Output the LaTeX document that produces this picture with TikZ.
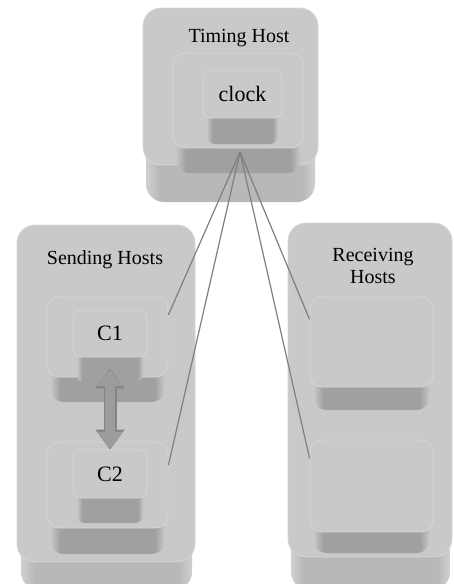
\documentclass[tikz,border=0pt]{standalone}
\usepackage{fontspec}
\setmainfont{Liberation Serif}
\usetikzlibrary{arrows.meta}
\definecolor{facegray}{HTML}{C9C9C9}
\definecolor{rimgray}{HTML}{D6D6D6}
\definecolor{banddark}{HTML}{A0A0A0}
\definecolor{bandlight}{HTML}{C6C6C6}
\definecolor{basedark}{HTML}{B8B8B8}
\definecolor{baselight}{HTML}{D0D0D0}
\definecolor{linkgray}{HTML}{7F7F7F}
\definecolor{arrowgray}{HTML}{9C9C9C}
\definecolor{arrowrim}{HTML}{858585}
\pgfdeclarehorizontalshading{bandshade}{100bp}{color(0bp)=(bandlight); color(25bp)=(bandlight); color(29bp)=(banddark); color(71bp)=(banddark); color(75bp)=(bandlight); color(100bp)=(bandlight)}
\pgfdeclarehorizontalshading{baseshade}{100bp}{color(0bp)=(baselight); color(25bp)=(baselight); color(29bp)=(basedark); color(71bp)=(basedark); color(75bp)=(baselight); color(100bp)=(baselight)}

\begin{document}
\begin{tikzpicture}[
		x=1pt, y=-1pt,
		face/.style={draw=rimgray, line width=0.8pt, fill=facegray, inner sep=0pt},
		band/.style={shading=bandshade, inner sep=0pt},
		base/.style={shading=baseshade, inner sep=0pt},
		big/.style={rounded corners=18pt},
		mid/.style={rounded corners=12pt},
		small/.style={rounded corners=8pt},
		title/.style={font=\fontsize{20}{22}\selectfont, align=center},
		core/.style={font=\fontsize{22}{24}\selectfont},
		link/.style={draw=linkgray, line width=1.2pt},
		syncrim/.style={draw=arrowrim, line width=13pt, >={Triangle[length=20pt, width=28pt]}, <->},
		sync/.style={draw=arrowgray, line width=10.5pt, >={Triangle[length=16.5pt, width=24.5pt]}, <->, shorten <=1.2pt, shorten >=1.2pt}
		]
		\useasboundingbox (0,0) rectangle (454,584);
		
		\node[base, big, minimum width=169pt, minimum height=72pt] (timingbase) at (230.5,166) {};
		\node[face, big, minimum width=175pt, minimum height=157pt] (timing) at (230.5,86.5) {};
		\node[band, mid, minimum width=124pt, minimum height=48pt] (timingmidbase) at (238,149) {};
		\node[face, mid, minimum width=130pt, minimum height=95pt] (timingmid) at (238,100.5) {};
		\node[band, small, minimum width=71pt, minimum height=44pt] (clockbase) at (242.5,122) {};
		\node[face, small, core, minimum width=79pt, minimum height=48pt] (clock) at (242.5,94) {clock};
		\node[title] (timinglabel) at (239,38) {Timing Host};
		\coordinate (hub) at (240,152);
		
		\node[base, big, minimum width=171pt, minimum height=60pt] (sendbase) at (106.5,560) {};
		\node[face, big, minimum width=178pt, minimum height=337pt] (send) at (106,393.5) {};
		\node[title] (sendlabel) at (105,260) {Sending Hosts};
		\node[band, mid, minimum width=113pt, minimum height=47pt] (c1base) at (107.5,378.5) {};
		\node[face, mid, minimum width=121pt, minimum height=80pt] (c1host) at (107.5,337) {};
		\node[band, small, minimum width=66pt, minimum height=43pt] (c1corebase) at (110,361.5) {};
		\node[face, small, core, minimum width=74pt, minimum height=47pt] (c1) at (110,333.5) {C1};
		\node[band, mid, minimum width=113pt, minimum height=49pt] (c2base) at (107.5,529.5) {};
		\node[face, mid, minimum width=121pt, minimum height=86pt] (c2host) at (107.5,485) {};
		\node[band, small, minimum width=66pt, minimum height=43pt] (c2corebase) at (110,501.5) {};
		\node[face, small, core, minimum width=74pt, minimum height=48pt] (c2) at (110,474) {C2};
		
		\node[base, big, minimum width=159pt, minimum height=70pt] (recvbase) at (370.5,555) {};
		\node[face, big, minimum width=164pt, minimum height=334pt] (recv) at (370,390) {};
		\node[title] (recvlabel) at (373,266) {Receiving\\Hosts};
		\node[band, mid, minimum width=115pt, minimum height=50pt] (r1base) at (371.5,385) {};
		\node[face, mid, minimum width=123pt, minimum height=90pt] (r1host) at (371.5,342) {};
		\node[band, mid, minimum width=115pt, minimum height=48pt] (r2base) at (371.5,529) {};
		\node[face, mid, minimum width=123pt, minimum height=92pt] (r2host) at (371.5,486) {};
		
		\draw[link] (hub) -- (c1host.20);
		\draw[link] (hub) -- (c2host.18);
		\draw[link] (hub) -- (r1host.160);
		\draw[link] (hub) -- (r2host.156);
		\draw[syncrim] ([yshift=-11pt]c1.south) -- (c2.north);
		\draw[sync] ([yshift=-11pt]c1.south) -- (c2.north);
		
	\end{tikzpicture}
\end{document}
